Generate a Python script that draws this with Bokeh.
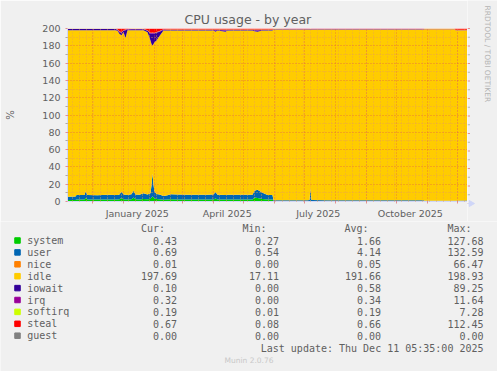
import math
import datetime as dt
from bokeh.plotting import figure
from bokeh.models import Range1d, FixedTicker, ColumnDataSource, DatetimeTickFormatter
from bokeh.layouts import column, row
from bokeh.embed import file_html
from bokeh.resources import INLINE
from bokeh.core.properties import value

START = dt.datetime(2024, 11, 6, 5, 35)
END = dt.datetime(2025, 12, 11, 5, 35)

# sample days (offset from START)
days = [0, 8, 9, 17, 18, 20, 30, 40, 48, 50, 52, 54, 56, 58, 60, 64, 66, 68, 72, 76,
        80, 83, 84, 85, 86, 87, 89, 92, 96, 100, 103, 110, 120, 130, 140, 146, 148, 150, 158, 160,
        170, 180, 185, 187, 190, 195, 200, 205, 206, 220, 240, 242, 243, 244, 260, 300, 330, 356, 357, 387,
        388, 400]
system = [1.8, 1.8, 2.3, 2.4, 4.0, 2.3, 2.2, 2.4, 2.3, 2.3,
          2.5, 4.0, 2.5, 2.4, 2.3, 2.6, 4.5, 2.5, 2.4, 3.0,
          2.5, 3.0, 4.5, 6.0, 5.0, 3.5, 2.8, 2.5, 2.0, 2.2,
          2.5, 2.4, 2.3, 2.4, 2.3, 2.4, 3.5, 2.4, 2.2, 2.3,
          2.3, 2.2, 2.3, 4.5, 4.0, 3.0, 2.2, 2.2, 0.5, 0.4,
          0.4, 0.5, 1.0, 0.5, 0.4, 0.4, 0.4, 0.4, 0.4, 0.4,
          0.4, 0.4]
user = [3.8, 3.9, 5.2, 5.0, 7.5, 5.3, 5.0, 5.4, 5.2, 5.1,
        5.5, 7.5, 5.5, 5.3, 5.2, 5.8, 8.0, 5.5, 5.3, 6.5,
        5.5, 6.5, 14.0, 26.5, 14.0, 8.0, 6.0, 5.5, 4.5, 5.0,
        6.0, 5.6, 5.6, 5.5, 5.4, 5.6, 7.5, 5.5, 5.3, 5.4,
        5.4, 5.5, 5.6, 8.0, 9.5, 7.0, 5.4, 5.3, 1.0, 1.0,
        1.0, 1.1, 14.3, 1.1, 1.0, 1.0, 1.0, 1.0, 0.6, 0.6,
        0.6, 0.7]
nice = [0.0] * 62
idle = [192.5, 192.4, 190.6, 190.7, 186.6, 190.5, 190.9, 190.3, 190.6, 190.0,
        185.6, 180.7, 187.9, 181.3, 190.4, 189.7, 185.6, 190.1, 190.4, 188.6,
        187.8, 176.6, 163.5, 147.8, 163.0, 172.6, 177.4, 183.3, 191.1, 190.5,
        189.2, 189.7, 189.8, 189.8, 190.0, 189.7, 185.3, 189.8, 188.7, 190.0,
        190.0, 190.0, 189.8, 184.4, 182.8, 187.7, 190.1, 190.2, 197.3, 197.3,
        197.3, 197.1, 183.3, 197.1, 197.3, 197.3, 197.3, 197.3, 198.0, 198.0,
        196.9, 196.8]
iowait = [1.2, 1.2, 1.2, 1.2, 1.2, 1.2, 1.2, 1.2, 1.2, 1.0,
          2.0, 3.0, 1.5, 9.0, 1.0, 1.0, 1.0, 1.0, 1.0, 1.0,
          1.5, 8.0, 12.0, 14.0, 12.0, 10.0, 9.0, 5.0, 1.0, 0.5,
          0.5, 0.5, 0.5, 0.5, 0.5, 0.5, 1.5, 0.5, 1.5, 0.5,
          0.5, 0.5, 0.5, 1.0, 1.5, 0.5, 0.5, 0.5, 0.4, 0.5,
          0.5, 0.5, 0.5, 0.5, 0.5, 0.5, 0.5, 0.5, 0.2, 0.2,
          0.1, 0.1]
irq = [0.4, 0.4, 0.4, 0.4, 0.4, 0.4, 0.4, 0.4, 0.4, 0.4,
       0.6, 0.5, 0.4, 0.8, 0.4, 0.4, 0.4, 0.4, 0.4, 0.4,
       0.5, 0.6, 0.7, 0.8, 0.7, 0.6, 0.5, 0.5, 0.4, 0.4,
       0.4, 0.4, 0.4, 0.4, 0.4, 0.4, 0.8, 0.4, 0.9, 0.4,
       0.4, 0.4, 0.4, 0.7, 0.8, 0.4, 0.4, 0.4, 0.3, 0.4,
       0.4, 0.4, 0.4, 0.4, 0.4, 0.4, 0.4, 0.4, 0.3, 0.3,
       0.3, 0.3]
softirq = [0.2, 0.2, 0.2, 0.2, 0.2, 0.2, 0.2, 0.2, 0.2, 0.2,
           0.3, 0.3, 0.2, 0.2, 0.2, 0.2, 0.2, 0.2, 0.2, 0.2,
           0.2, 0.3, 0.3, 0.4, 0.3, 0.3, 0.3, 0.2, 0.2, 0.2,
           0.2, 0.2, 0.2, 0.2, 0.2, 0.2, 0.2, 0.2, 0.2, 0.2,
           0.2, 0.2, 0.2, 0.2, 0.2, 0.2, 0.2, 0.2, 0.2, 0.2,
           0.2, 0.2, 0.2, 0.2, 0.2, 0.2, 0.2, 0.2, 0.2, 0.2,
           0.2, 0.2]
steal = [0.1, 0.1, 0.1, 0.1, 0.1, 0.1, 0.1, 0.1, 0.1, 1.0,
         3.5, 4.0, 2.0, 1.0, 0.5, 0.3, 0.3, 0.3, 0.3, 0.3,
         2.0, 5.0, 5.0, 4.5, 5.0, 5.0, 4.0, 3.0, 0.8, 1.2,
         1.2, 1.2, 1.2, 1.2, 1.2, 1.2, 1.2, 1.2, 1.2, 1.2,
         1.2, 1.2, 1.2, 1.2, 1.2, 1.2, 1.2, 1.2, 0.3, 0.2,
         0.2, 0.2, 0.3, 0.2, 0.2, 0.2, 0.2, 0.2, 0.3, 0.3,
         1.5, 1.5]
guest = [0.0] * 62

names = ["system", "user", "nice", "idle", "iowait", "irq", "softirq", "steal", "guest"]
colors = ["#00CC00", "#0066B3", "#FF8000", "#FFCC00", "#330099", "#990099", "#CCFF00", "#FF0000", "#808080"]
cur = [0.43, 0.69, 0.01, 197.69, 0.10, 0.32, 0.19, 0.67, 0.00]
mins = [0.27, 0.54, 0.00, 17.11, 0.00, 0.00, 0.01, 0.08, 0.00]
avgs = [1.66, 4.14, 0.05, 191.66, 0.58, 0.34, 0.19, 0.66, 0.00]
maxs = [127.68, 132.59, 66.47, 198.93, 89.25, 11.64, 7.28, 112.45, 0.00]

y_ticks = [0, 20, 40, 60, 80, 100, 120, 140, 160, 180, 200]
y_minor = [10, 30, 50, 70, 90, 110, 130, 150, 170, 190]
label_dates = [dt.datetime(2025, 1, 15), dt.datetime(2025, 4, 15), dt.datetime(2025, 7, 15), dt.datetime(2025, 10, 15)]
month_dates = [dt.datetime(2024, 12, 1)] + [dt.datetime(2025, m, 1) for m in range(1, 13)]

EPOCH = dt.datetime(1970, 1, 1)
def ms(d):
    return (d - EPOCH).total_seconds() * 1000.0

week_dates = []
d0 = dt.datetime(2024, 11, 11)
while d0 < END:
    week_dates.append(d0)
    d0 += dt.timedelta(days=7)

MGRID = "#DE4F4F"
GRID = "#E8A050"
FONT = "#606060"
AXIS = "#CFD6F8"
BACK = "#F0F0F0"

# layout geometry (pixels)
TOP_H = 221
FRAME_TOP = 28
FRAME_BOTTOM = 203
PX_PER_UNIT = (FRAME_BOTTOM - FRAME_TOP) / 200.0

src = ColumnDataSource(dict(
    x=[START + dt.timedelta(days=d) for d in days],
    system=system, user=user, nice=nice, idle=idle, iowait=iowait,
    irq=irq, softirq=softirq, steal=steal, guest=guest))

p = figure(width=467, height=TOP_H, x_axis_type="datetime",
           x_range=Range1d(START, END), y_range=Range1d(0, 200),
           toolbar_location=None, output_backend="svg",
           min_border_left=67, min_border_right=0, min_border_top=FRAME_TOP,
           min_border_bottom=TOP_H - FRAME_BOTTOM,
           background_fill_color="white", border_fill_color=BACK, outline_line_color=None,
           title="CPU usage - by year")
p.frame_align = False
p.title.text_font = "DejaVu Sans"
p.title.text_font_size = "12.5px"
p.title.text_font_style = "normal"
p.title.text_color = FONT
p.title.align = "left"
p.title.offset = 117
p.title.standoff = 4

p.varea_stack(stackers=names, x="x", color=colors, source=src)

xa = p.xaxis[0]
xa.ticker = FixedTicker(ticks=[ms(d) for d in label_dates], minor_ticks=[ms(d) for d in month_dates])
fmt = "%B %Y"
xa.formatter = DatetimeTickFormatter(days=fmt, months=fmt, years=fmt, hours=fmt, hourmin=fmt)
xa.major_tick_line_color = None
xa.major_tick_out = 0
xa.major_tick_in = 0
xa.minor_tick_line_color = MGRID
xa.minor_tick_line_alpha = 0.6
xa.minor_tick_out = 2
xa.minor_tick_in = 0
xa.axis_line_color = AXIS
xa.major_label_standoff = 4
xa.major_label_text_font = "DejaVu Sans"
xa.major_label_text_font_size = "9.5px"
xa.major_label_text_color = FONT

ya = p.yaxis[0]
ya.ticker = FixedTicker(ticks=y_ticks, minor_ticks=y_minor)
ya.axis_line_color = AXIS
ya.major_tick_line_color = MGRID
ya.major_tick_line_alpha = 0.6
ya.major_tick_out = 2
ya.major_tick_in = 0
ya.minor_tick_line_color = "#909090"
ya.minor_tick_line_alpha = 0.75
ya.minor_tick_out = 2
ya.minor_tick_in = 0
ya.major_label_standoff = 5
ya.major_label_text_font = "DejaVu Sans"
ya.major_label_text_font_size = "9.5px"
ya.major_label_text_color = FONT
ya.axis_label = "%"
ya.axis_label_text_font = "DejaVu Sans"
ya.axis_label_text_font_size = "10px"
ya.axis_label_text_font_style = "normal"
ya.axis_label_text_color = FONT
ya.axis_label_standoff = 23

p.xgrid.ticker = FixedTicker(ticks=[ms(d) for d in month_dates], minor_ticks=[ms(d) for d in week_dates])
p.ygrid.ticker = FixedTicker(ticks=y_ticks, minor_ticks=y_minor)
for g in (p.xgrid[0], p.ygrid[0]):
    g.level = "overlay"
    g.grid_line_color = MGRID
    g.grid_line_alpha = 0.6
    g.grid_line_dash = "1 2"
    g.minor_grid_line_color = GRID
    g.minor_grid_line_alpha = 0.8
    g.minor_grid_line_dash = "1 2"

# right strip: rrdtool credit, x-axis arrow, right ends of the horizontal grid
y_lo = -(TOP_H - FRAME_BOTTOM) / PX_PER_UNIT
y_hi = 200 + FRAME_TOP / PX_PER_UNIT
strip = figure(width=497 - 467, height=TOP_H, x_range=Range1d(467, 497), y_range=Range1d(y_lo, y_hi),
               x_axis_type=None, y_axis_type=None, toolbar_location=None, output_backend="svg",
               min_border=0, outline_line_color=None,
               background_fill_color=BACK, border_fill_color=BACK)
strip.frame_align = False
strip.segment(x0=[467] * len(y_ticks), y0=y_ticks, x1=[469.5] * len(y_ticks), y1=y_ticks,
              line_color=MGRID, line_alpha=0.6, line_width=1)
strip.segment(x0=[467] * len(y_minor), y0=y_minor, x1=[469.5] * len(y_minor), y1=y_minor,
              line_color="#909090", line_alpha=0.6, line_width=1)
strip.segment(x0=[467], y0=[0], x1=[471], y1=[0], line_color=AXIS, line_width=1)
strip.scatter(x=[470.5], y=[0], marker="triangle", size=6, angle=-math.pi / 2,
              fill_color=AXIS, line_color=AXIS)
strip.text(x=[487.3], y=[200 + (FRAME_TOP - 5) / PX_PER_UNIT], text=["RRDTOOL / TOBI OETIKER"],
           angle=-math.pi / 2, text_font=value("DejaVu Sans"), text_font_size=value("7.5px"),
           text_color="#B4B4B4", text_align="left", text_baseline="middle")

# legend / statistics panel
p2 = figure(width=497, height=371 - TOP_H, x_range=Range1d(0, 497), y_range=Range1d(371, TOP_H),
            x_axis_type=None, y_axis_type=None, toolbar_location=None, output_backend="svg",
            min_border=0, outline_line_color=None,
            background_fill_color=BACK, border_fill_color=BACK)
p2.frame_align = False

row_y = [240 + 11.9 * i for i in range(len(names))]
mono = value("DejaVu Sans Mono")
fs = value("10px")

p2.rect(x=[17] * len(names), y=row_y, width=5.5, height=5.5, color=colors)
p2.text(x=[26.7] * len(names), y=row_y, text=names, text_font=mono, text_font_size=fs,
        text_color=FONT, text_align="left", text_baseline="middle")
for col_vals, right in ((cur, 176.5), (mins, 278.5), (avgs, 380.5), (maxs, 483)):
    p2.text(x=[right] * len(names), y=row_y, text=[f"{v:.2f}" for v in col_vals], text_font=mono,
            text_font_size=fs, text_color=FONT, text_align="right", text_baseline="middle")
p2.text(x=[164.5, 266, 368, 471], y=[227.7] * 4, text=["Cur:", "Min:", "Avg:", "Max:"],
        text_font=mono, text_font_size=fs, text_color=FONT, text_align="right", text_baseline="middle")
p2.text(x=[483], y=[347.5], text=["Last update: Thu Dec 11 05:35:00 2025"], text_font=mono,
        text_font_size=fs, text_color=FONT, text_align="right", text_baseline="middle")
p2.text(x=[248.5], y=[359.5], text=["Munin 2.0.76"], text_font=value("DejaVu Sans"),
        text_font_size=value("7.5px"), text_color="#C8C8C8", text_align="center", text_baseline="middle")

layout = column(row(p, strip, spacing=0), p2, spacing=0)
open("out.html", "w").write(file_html(layout, INLINE))
